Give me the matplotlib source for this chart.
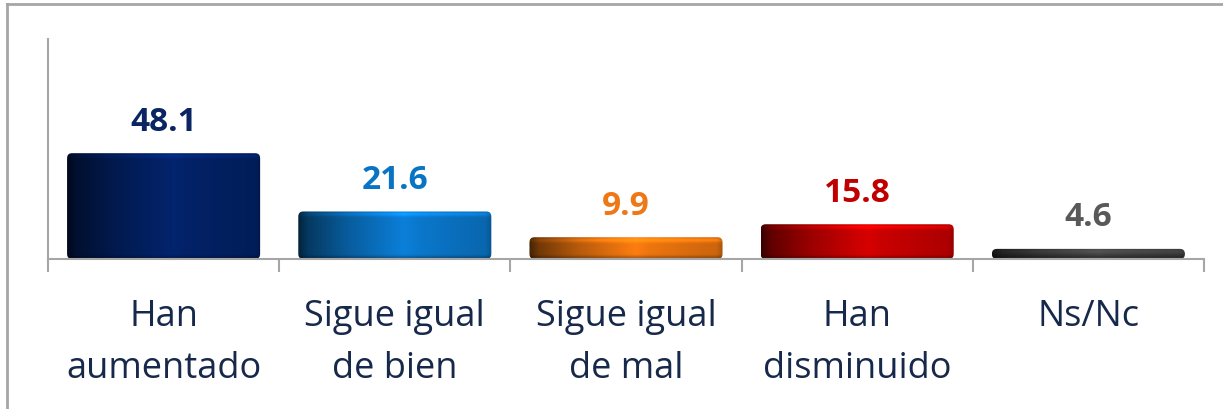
import numpy as np
import matplotlib.pyplot as plt
from matplotlib.patches import FancyBboxPatch
from matplotlib.colors import to_rgb

categories = ["Han\naumentado", "Sigue igual\nde bien", "Sigue igual\nde mal", "Han\ndisminuido", "Ns/Nc"]
values = [48.1, 21.6, 9.9, 15.8, 4.6]
bar_colors = ["#022062", "#0a72c2", "#e2700e", "#c00000", "#3c3c3c"]
label_colors = ["#0b2562", "#0a74c4", "#ee7716", "#c00000", "#595959"]

plt.rcParams['font.family'] = ['Open Sans', 'DejaVu Sans']

fig = plt.figure(figsize=(12.23, 4.10), dpi=100)
ax = fig.add_axes([48 / 1223, 150 / 410, 1156 / 1223, 220 / 410])
ax.set_xlim(-0.5, 4.5)
ax.set_ylim(0, 100)

# frame around the figure (top and left only, as in the original)
fig.add_artist(plt.Line2D([7 / 1223, 7 / 1223], [0, 1 - 5 / 410], transform=fig.transFigure,
                          color="#a6a6a6", lw=2))
fig.add_artist(plt.Line2D([7 / 1223, 1], [1 - 5 / 410, 1 - 5 / 410], transform=fig.transFigure,
                          color="#a6a6a6", lw=2))

xs = np.arange(len(values))
width = 0.835
bars = ax.bar(xs, values, width=width, color="none", edgecolor="none")

px_x = 1156 / 5.0      # pixels per x unit
px_y = 220 / 100.0     # pixels per y unit


def shade(base, h_px):
    base = np.array(to_rgb(base))
    nx = 200
    ny = max(int(h_px), 4)
    t = np.linspace(0, 1, nx)
    # horizontal cylinder-like profile
    f = np.interp(t, [0, 0.05, 0.25, 0.55, 0.62, 0.85, 0.97, 1.0],
                  [0.3, 0.5, 0.8, 1.12, 1.05, 0.95, 0.9, 0.75])
    rows = np.arange(ny) + 0.5  # from top
    g = np.ones(ny)
    g += 0.25 * np.exp(-((rows - 3) / 2.0) ** 2)
    g -= 0.25 * np.exp(-((ny - rows - 1.5) / 1.8) ** 2)
    img = base[None, None, :] * f[None, :, None] * g[:, None, None]
    return np.clip(img, 0, 1)


for rect, col in zip(bars, bar_colors):
    x0 = rect.get_x()
    h = rect.get_height()
    r = 5.0 / px_x
    patch = FancyBboxPatch((x0, 0), width, h,
                           boxstyle="round,pad=0,rounding_size=%f" % r,
                           mutation_aspect=px_x / px_y,
                           facecolor="none", edgecolor="none")
    ax.add_patch(patch)
    im = ax.imshow(shade(col, h * px_y), extent=[x0, x0 + width, 0, h],
                   aspect="auto", interpolation="bilinear", zorder=2)
    im.set_clip_path(patch)

for x, v, c in zip(xs, values, label_colors):
    ax.text(x, v + 7, "%.1f" % v, ha="center", va="bottom", color=c,
            fontsize=24, fontweight="bold")

for s in ["top", "right"]:
    ax.spines[s].set_visible(False)
ax.spines["left"].set_color("#a6a6a6")
ax.spines["bottom"].set_color("#a6a6a6")
ax.spines["left"].set_linewidth(1.5)
ax.spines["bottom"].set_linewidth(1.5)
ax.set_yticks([])

ax.set_xticks(xs)
ax.set_xticklabels(categories, fontsize=26, color="#17294a", linespacing=1.6)
ax.tick_params(axis="x", which="major", length=0, pad=28)
ax.set_xticks(np.arange(-0.5, 5, 1), minor=True)
ax.tick_params(axis="x", which="minor", length=9, width=1.5, color="#a6a6a6", direction="out")

fig.savefig("out.png", dpi=100)
